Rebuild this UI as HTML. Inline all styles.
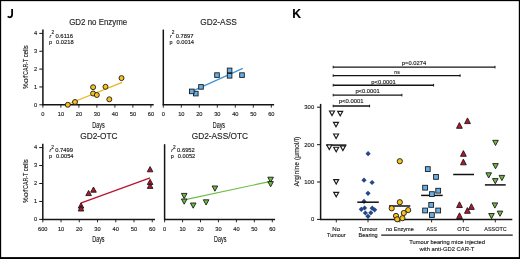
<!DOCTYPE html>
<html><head><meta charset="utf-8"><style>
html,body{margin:0;padding:0;background:#fff;}
svg{display:block;will-change:transform;}
text{font-family:"Liberation Sans", sans-serif;stroke:#1a1a1a;stroke-width:0.14px;}
</style></head><body>
<svg width="520" height="259" viewBox="0 0 520 259">
<rect width="520" height="259" fill="#fff"/>
<line x1="42.9" y1="29.59999999999999" x2="42.9" y2="105.35" stroke="#141414" stroke-width="1.5"/>
<line x1="42.35" y1="104.8" x2="153.70000000000002" y2="104.8" stroke="#141414" stroke-width="1.5"/>
<line x1="42.9" y1="104.8" x2="42.9" y2="107.7" stroke="#141414" stroke-width="0.9"/>
<text x="42.9" y="116.1" font-size="5.7" text-anchor="middle" font-weight="normal" fill="#222">0</text>
<line x1="60.9" y1="104.8" x2="60.9" y2="107.7" stroke="#141414" stroke-width="0.9"/>
<text x="60.9" y="116.1" font-size="5.7" text-anchor="middle" font-weight="normal" fill="#222">10</text>
<line x1="78.9" y1="104.8" x2="78.9" y2="107.7" stroke="#141414" stroke-width="0.9"/>
<text x="78.9" y="116.1" font-size="5.7" text-anchor="middle" font-weight="normal" fill="#222">20</text>
<line x1="96.9" y1="104.8" x2="96.9" y2="107.7" stroke="#141414" stroke-width="0.9"/>
<text x="96.9" y="116.1" font-size="5.7" text-anchor="middle" font-weight="normal" fill="#222">30</text>
<line x1="114.9" y1="104.8" x2="114.9" y2="107.7" stroke="#141414" stroke-width="0.9"/>
<text x="114.9" y="116.1" font-size="5.7" text-anchor="middle" font-weight="normal" fill="#222">40</text>
<line x1="132.9" y1="104.8" x2="132.9" y2="107.7" stroke="#141414" stroke-width="0.9"/>
<text x="132.9" y="116.1" font-size="5.7" text-anchor="middle" font-weight="normal" fill="#222">50</text>
<line x1="150.9" y1="104.8" x2="150.9" y2="107.7" stroke="#141414" stroke-width="0.9"/>
<text x="150.9" y="116.1" font-size="5.7" text-anchor="middle" font-weight="normal" fill="#222">60</text>
<line x1="39.3" y1="104.8" x2="42.9" y2="104.8" stroke="#141414" stroke-width="1.0"/>
<text x="35.699999999999996" y="106.5" font-size="5.7" text-anchor="middle" font-weight="normal" fill="#222">0</text>
<line x1="39.3" y1="86.94999999999999" x2="42.9" y2="86.94999999999999" stroke="#141414" stroke-width="1.0"/>
<text x="35.699999999999996" y="88.64999999999999" font-size="5.7" text-anchor="middle" font-weight="normal" fill="#222">1</text>
<line x1="39.3" y1="69.1" x2="42.9" y2="69.1" stroke="#141414" stroke-width="1.0"/>
<text x="35.699999999999996" y="70.8" font-size="5.7" text-anchor="middle" font-weight="normal" fill="#222">2</text>
<line x1="39.3" y1="51.24999999999999" x2="42.9" y2="51.24999999999999" stroke="#141414" stroke-width="1.0"/>
<text x="35.699999999999996" y="52.949999999999996" font-size="5.7" text-anchor="middle" font-weight="normal" fill="#222">3</text>
<line x1="39.3" y1="33.39999999999999" x2="42.9" y2="33.39999999999999" stroke="#141414" stroke-width="1.0"/>
<text x="35.699999999999996" y="35.099999999999994" font-size="5.7" text-anchor="middle" font-weight="normal" fill="#222">4</text>
<text x="98.5" y="127.8" font-size="8.4" text-anchor="middle" font-weight="normal" fill="#1a1a1a" textLength="12.3" lengthAdjust="spacingAndGlyphs">Days</text>
<text x="98.2" y="24.599999999999994" font-size="8.3" text-anchor="middle" font-weight="normal" fill="#231f20" textLength="58.0" lengthAdjust="spacingAndGlyphs">GD2 no Enzyme</text>
<text x="49.6" y="37.60" font-size="5.4" font-style="italic" fill="#1a1a1a">r</text>
<text x="51.4" y="34.40" font-size="4.8" fill="#1a1a1a">2</text>
<text x="55.4" y="37.5" font-size="5.4" text-anchor="start" font-weight="normal" fill="#1a1a1a" textLength="17.7" lengthAdjust="spacingAndGlyphs">0.6116</text>
<text x="49.1" y="44.2" font-size="5.4" text-anchor="start" font-weight="normal" fill="#1a1a1a">p</text>
<text x="56.1" y="44.2" font-size="5.4" text-anchor="start" font-weight="normal" fill="#1a1a1a" textLength="17.5" lengthAdjust="spacingAndGlyphs">0.0218</text>
<line x1="163.3" y1="29.59999999999999" x2="163.3" y2="105.35" stroke="#141414" stroke-width="1.5"/>
<line x1="162.75" y1="104.8" x2="274.1" y2="104.8" stroke="#141414" stroke-width="1.5"/>
<line x1="163.3" y1="104.8" x2="163.3" y2="107.7" stroke="#141414" stroke-width="0.9"/>
<text x="163.3" y="116.1" font-size="5.7" text-anchor="middle" font-weight="normal" fill="#222">0</text>
<line x1="181.3" y1="104.8" x2="181.3" y2="107.7" stroke="#141414" stroke-width="0.9"/>
<text x="181.3" y="116.1" font-size="5.7" text-anchor="middle" font-weight="normal" fill="#222">10</text>
<line x1="199.3" y1="104.8" x2="199.3" y2="107.7" stroke="#141414" stroke-width="0.9"/>
<text x="199.3" y="116.1" font-size="5.7" text-anchor="middle" font-weight="normal" fill="#222">20</text>
<line x1="217.3" y1="104.8" x2="217.3" y2="107.7" stroke="#141414" stroke-width="0.9"/>
<text x="217.3" y="116.1" font-size="5.7" text-anchor="middle" font-weight="normal" fill="#222">30</text>
<line x1="235.3" y1="104.8" x2="235.3" y2="107.7" stroke="#141414" stroke-width="0.9"/>
<text x="235.3" y="116.1" font-size="5.7" text-anchor="middle" font-weight="normal" fill="#222">40</text>
<line x1="253.3" y1="104.8" x2="253.3" y2="107.7" stroke="#141414" stroke-width="0.9"/>
<text x="253.3" y="116.1" font-size="5.7" text-anchor="middle" font-weight="normal" fill="#222">50</text>
<line x1="271.3" y1="104.8" x2="271.3" y2="107.7" stroke="#141414" stroke-width="0.9"/>
<text x="271.3" y="116.1" font-size="5.7" text-anchor="middle" font-weight="normal" fill="#222">60</text>
<text x="218.9" y="127.8" font-size="8.4" text-anchor="middle" font-weight="normal" fill="#1a1a1a" textLength="12.3" lengthAdjust="spacingAndGlyphs">Days</text>
<text x="218.5" y="24.599999999999994" font-size="8.3" text-anchor="middle" font-weight="normal" fill="#231f20">GD2-ASS</text>
<text x="170.0" y="37.60" font-size="5.4" font-style="italic" fill="#1a1a1a">r</text>
<text x="171.8" y="34.40" font-size="4.8" fill="#1a1a1a">2</text>
<text x="175.8" y="37.5" font-size="5.4" text-anchor="start" font-weight="normal" fill="#1a1a1a" textLength="17.7" lengthAdjust="spacingAndGlyphs">0.7897</text>
<text x="169.5" y="44.2" font-size="5.4" text-anchor="start" font-weight="normal" fill="#1a1a1a">p</text>
<text x="176.5" y="44.2" font-size="5.4" text-anchor="start" font-weight="normal" fill="#1a1a1a" textLength="17.5" lengthAdjust="spacingAndGlyphs">0.0014</text>
<line x1="42.8" y1="143.8" x2="42.8" y2="219.95000000000002" stroke="#141414" stroke-width="1.5"/>
<line x1="42.25" y1="219.4" x2="155.04000000000002" y2="219.4" stroke="#141414" stroke-width="1.5"/>
<line x1="42.8" y1="219.4" x2="42.8" y2="222.3" stroke="#141414" stroke-width="0.9"/>
<text x="42.8" y="230.70000000000002" font-size="5.7" text-anchor="middle" font-weight="normal" fill="#222">600</text>
<line x1="61.04" y1="219.4" x2="61.04" y2="222.3" stroke="#141414" stroke-width="0.9"/>
<text x="61.04" y="230.70000000000002" font-size="5.7" text-anchor="middle" font-weight="normal" fill="#222">10</text>
<line x1="79.28" y1="219.4" x2="79.28" y2="222.3" stroke="#141414" stroke-width="0.9"/>
<text x="79.28" y="230.70000000000002" font-size="5.7" text-anchor="middle" font-weight="normal" fill="#222">20</text>
<line x1="97.52" y1="219.4" x2="97.52" y2="222.3" stroke="#141414" stroke-width="0.9"/>
<text x="97.52" y="230.70000000000002" font-size="5.7" text-anchor="middle" font-weight="normal" fill="#222">30</text>
<line x1="115.76" y1="219.4" x2="115.76" y2="222.3" stroke="#141414" stroke-width="0.9"/>
<text x="115.76" y="230.70000000000002" font-size="5.7" text-anchor="middle" font-weight="normal" fill="#222">40</text>
<line x1="134.0" y1="219.4" x2="134.0" y2="222.3" stroke="#141414" stroke-width="0.9"/>
<text x="134.0" y="230.70000000000002" font-size="5.7" text-anchor="middle" font-weight="normal" fill="#222">50</text>
<line x1="152.24" y1="219.4" x2="152.24" y2="222.3" stroke="#141414" stroke-width="0.9"/>
<text x="152.24" y="230.70000000000002" font-size="5.7" text-anchor="middle" font-weight="normal" fill="#222">60</text>
<line x1="39.199999999999996" y1="219.4" x2="42.8" y2="219.4" stroke="#141414" stroke-width="1.0"/>
<text x="35.599999999999994" y="221.1" font-size="5.7" text-anchor="middle" font-weight="normal" fill="#222">0</text>
<line x1="39.199999999999996" y1="201.45000000000002" x2="42.8" y2="201.45000000000002" stroke="#141414" stroke-width="1.0"/>
<text x="35.599999999999994" y="203.15" font-size="5.7" text-anchor="middle" font-weight="normal" fill="#222">1</text>
<line x1="39.199999999999996" y1="183.5" x2="42.8" y2="183.5" stroke="#141414" stroke-width="1.0"/>
<text x="35.599999999999994" y="185.2" font-size="5.7" text-anchor="middle" font-weight="normal" fill="#222">2</text>
<line x1="39.199999999999996" y1="165.55" x2="42.8" y2="165.55" stroke="#141414" stroke-width="1.0"/>
<text x="35.599999999999994" y="167.25" font-size="5.7" text-anchor="middle" font-weight="normal" fill="#222">3</text>
<line x1="39.199999999999996" y1="147.60000000000002" x2="42.8" y2="147.60000000000002" stroke="#141414" stroke-width="1.0"/>
<text x="35.599999999999994" y="149.3" font-size="5.7" text-anchor="middle" font-weight="normal" fill="#222">4</text>
<text x="98.4" y="242.4" font-size="8.4" text-anchor="middle" font-weight="normal" fill="#1a1a1a" textLength="12.3" lengthAdjust="spacingAndGlyphs">Days</text>
<text x="98.9" y="138.6" font-size="8.3" text-anchor="middle" font-weight="normal" fill="#231f20">GD2-OTC</text>
<text x="49.5" y="151.70" font-size="5.4" font-style="italic" fill="#1a1a1a">r</text>
<text x="51.3" y="148.50" font-size="4.8" fill="#1a1a1a">2</text>
<text x="55.3" y="151.6" font-size="5.4" text-anchor="start" font-weight="normal" fill="#1a1a1a" textLength="17.7" lengthAdjust="spacingAndGlyphs">0.7499</text>
<text x="49.0" y="158.3" font-size="5.4" text-anchor="start" font-weight="normal" fill="#1a1a1a">p</text>
<text x="56.0" y="158.3" font-size="5.4" text-anchor="start" font-weight="normal" fill="#1a1a1a" textLength="17.5" lengthAdjust="spacingAndGlyphs">0.0054</text>
<line x1="164.6" y1="144.2" x2="164.6" y2="219.95000000000002" stroke="#141414" stroke-width="1.5"/>
<line x1="164.04999999999998" y1="219.4" x2="275.09999999999997" y2="219.4" stroke="#141414" stroke-width="1.5"/>
<line x1="164.6" y1="219.4" x2="164.6" y2="222.3" stroke="#141414" stroke-width="0.9"/>
<text x="164.6" y="230.70000000000002" font-size="5.7" text-anchor="middle" font-weight="normal" fill="#222">0</text>
<line x1="182.54999999999998" y1="219.4" x2="182.54999999999998" y2="222.3" stroke="#141414" stroke-width="0.9"/>
<text x="182.55" y="230.70000000000002" font-size="5.7" text-anchor="middle" font-weight="normal" fill="#222">10</text>
<line x1="200.5" y1="219.4" x2="200.5" y2="222.3" stroke="#141414" stroke-width="0.9"/>
<text x="200.5" y="230.70000000000002" font-size="5.7" text-anchor="middle" font-weight="normal" fill="#222">20</text>
<line x1="218.45" y1="219.4" x2="218.45" y2="222.3" stroke="#141414" stroke-width="0.9"/>
<text x="218.45" y="230.70000000000002" font-size="5.7" text-anchor="middle" font-weight="normal" fill="#222">30</text>
<line x1="236.39999999999998" y1="219.4" x2="236.39999999999998" y2="222.3" stroke="#141414" stroke-width="0.9"/>
<text x="236.4" y="230.70000000000002" font-size="5.7" text-anchor="middle" font-weight="normal" fill="#222">40</text>
<line x1="254.35" y1="219.4" x2="254.35" y2="222.3" stroke="#141414" stroke-width="0.9"/>
<text x="254.35" y="230.70000000000002" font-size="5.7" text-anchor="middle" font-weight="normal" fill="#222">50</text>
<line x1="272.29999999999995" y1="219.4" x2="272.29999999999995" y2="222.3" stroke="#141414" stroke-width="0.9"/>
<text x="272.3" y="230.70000000000002" font-size="5.7" text-anchor="middle" font-weight="normal" fill="#222">60</text>
<text x="220.2" y="242.4" font-size="8.4" text-anchor="middle" font-weight="normal" fill="#1a1a1a" textLength="12.3" lengthAdjust="spacingAndGlyphs">Days</text>
<text x="219.9" y="138.5" font-size="8.3" text-anchor="middle" font-weight="normal" fill="#231f20">GD2-ASS/OTC</text>
<text x="171.29999999999998" y="151.80" font-size="5.4" font-style="italic" fill="#1a1a1a">r</text>
<text x="173.1" y="148.60" font-size="4.8" fill="#1a1a1a">2</text>
<text x="177.1" y="151.7" font-size="5.4" text-anchor="start" font-weight="normal" fill="#1a1a1a" textLength="17.7" lengthAdjust="spacingAndGlyphs">0.6952</text>
<text x="170.79999999999998" y="158.4" font-size="5.4" text-anchor="start" font-weight="normal" fill="#1a1a1a">p</text>
<text x="177.79999999999998" y="158.4" font-size="5.4" text-anchor="start" font-weight="normal" fill="#1a1a1a" textLength="17.5" lengthAdjust="spacingAndGlyphs">0.0052</text>
<g transform="translate(27.8 88.6) rotate(-90)" font-size="7.9" fill="#1a1a1a" stroke="#1a1a1a" stroke-width="0.12">
<text x="-0.30" y="0" textLength="5.70" lengthAdjust="spacingAndGlyphs">%</text>
<text x="5.70" y="0" textLength="7.20" lengthAdjust="spacingAndGlyphs">of</text>
<text x="13.70" y="0" textLength="16.20" lengthAdjust="spacingAndGlyphs">CAR-T</text>
<text x="31.30" y="0" textLength="12.10" lengthAdjust="spacingAndGlyphs">cells</text>
</g>
<g transform="translate(27.8 202.6) rotate(-90)" font-size="7.9" fill="#1a1a1a" stroke="#1a1a1a" stroke-width="0.12">
<text x="-0.30" y="0" textLength="5.70" lengthAdjust="spacingAndGlyphs">%</text>
<text x="5.70" y="0" textLength="7.20" lengthAdjust="spacingAndGlyphs">of</text>
<text x="13.70" y="0" textLength="16.20" lengthAdjust="spacingAndGlyphs">CAR-T</text>
<text x="31.30" y="0" textLength="12.10" lengthAdjust="spacingAndGlyphs">cells</text>
</g>
<line x1="67.8" y1="104.3" x2="122.2" y2="82.4" stroke="#eab51c" stroke-width="1.2"/>
<circle cx="67.8" cy="104.8" r="2.5" fill="#f6c31b" stroke="#1a1a1a" stroke-width="0.9"/>
<circle cx="75.0" cy="102.0" r="2.5" fill="#f6c31b" stroke="#1a1a1a" stroke-width="0.9"/>
<circle cx="93.1" cy="87.2" r="2.5" fill="#f6c31b" stroke="#1a1a1a" stroke-width="0.9"/>
<circle cx="93.1" cy="93.5" r="2.5" fill="#f6c31b" stroke="#1a1a1a" stroke-width="0.9"/>
<circle cx="96.8" cy="95.0" r="2.5" fill="#f6c31b" stroke="#1a1a1a" stroke-width="0.9"/>
<circle cx="105.5" cy="86.8" r="2.5" fill="#f6c31b" stroke="#1a1a1a" stroke-width="0.9"/>
<circle cx="109.3" cy="99.3" r="2.5" fill="#f6c31b" stroke="#1a1a1a" stroke-width="0.9"/>
<circle cx="121.5" cy="78.1" r="2.5" fill="#f6c31b" stroke="#1a1a1a" stroke-width="0.9"/>
<line x1="191.8" y1="91.4" x2="242.8" y2="68.4" stroke="#3f91d6" stroke-width="1.2"/>
<rect x="193.5" y="91.3" width="4.6" height="4.6" fill="#64afea" stroke="#1a1a1a" stroke-width="0.9"/>
<rect x="189.5" y="89.10000000000001" width="4.6" height="4.6" fill="#64afea" stroke="#1a1a1a" stroke-width="0.9"/>
<rect x="198.7" y="84.60000000000001" width="4.6" height="4.6" fill="#64afea" stroke="#1a1a1a" stroke-width="0.9"/>
<rect x="214.7" y="72.8" width="4.6" height="4.6" fill="#64afea" stroke="#1a1a1a" stroke-width="0.9"/>
<rect x="227.29999999999998" y="68.10000000000001" width="4.6" height="4.6" fill="#64afea" stroke="#1a1a1a" stroke-width="0.9"/>
<rect x="227.29999999999998" y="73.5" width="4.6" height="4.6" fill="#64afea" stroke="#1a1a1a" stroke-width="0.9"/>
<rect x="239.7" y="72.8" width="4.6" height="4.6" fill="#64afea" stroke="#1a1a1a" stroke-width="0.9"/>
<line x1="80.7" y1="203.2" x2="150.1" y2="177.8" stroke="#b8142f" stroke-width="1.3"/>
<path d="M81 202.9 L83.8 208.1 L78.2 208.1 Z" fill="#b8142f" stroke="#1a1a1a" stroke-width="0.9" stroke-linejoin="miter"/>
<path d="M81 205.8 L83.8 211.0 L78.2 211.0 Z" fill="#b8142f" stroke="#1a1a1a" stroke-width="0.9" stroke-linejoin="miter"/>
<path d="M150.1 179.3 L152.9 184.5 L147.29999999999998 184.5 Z" fill="#b8142f" stroke="#1a1a1a" stroke-width="0.9" stroke-linejoin="miter"/>
<path d="M150.1 183.2 L152.9 188.39999999999998 L147.29999999999998 188.39999999999998 Z" fill="#b8142f" stroke="#1a1a1a" stroke-width="0.9" stroke-linejoin="miter"/>
<path d="M150.1 166.6 L152.9 171.79999999999998 L147.29999999999998 171.79999999999998 Z" fill="#b8142f" stroke="#1a1a1a" stroke-width="0.9" stroke-linejoin="miter"/>
<path d="M93.5 187.0 L96.3 192.2 L90.7 192.2 Z" fill="#b8142f" stroke="#1a1a1a" stroke-width="0.9" stroke-linejoin="miter"/>
<path d="M88.6 190.4 L91.39999999999999 195.6 L85.8 195.6 Z" fill="#b8142f" stroke="#1a1a1a" stroke-width="0.9" stroke-linejoin="miter"/>
<line x1="184.2" y1="199.9" x2="269.5" y2="181.6" stroke="#6cbd45" stroke-width="1.2"/>
<path d="M181.39999999999998 193.4 L187.0 193.4 L184.2 198.6 Z" fill="#6cbd3e" stroke="#1a1a1a" stroke-width="0.9" stroke-linejoin="miter"/>
<path d="M181.39999999999998 199.0 L187.0 199.0 L184.2 204.2 Z" fill="#6cbd3e" stroke="#1a1a1a" stroke-width="0.9" stroke-linejoin="miter"/>
<path d="M190.39999999999998 203.0 L196.0 203.0 L193.2 208.2 Z" fill="#6cbd3e" stroke="#1a1a1a" stroke-width="0.9" stroke-linejoin="miter"/>
<path d="M203.29999999999998 199.8 L208.9 199.8 L206.1 205.0 Z" fill="#6cbd3e" stroke="#1a1a1a" stroke-width="0.9" stroke-linejoin="miter"/>
<path d="M212.1 186.0 L217.70000000000002 186.0 L214.9 191.2 Z" fill="#6cbd3e" stroke="#1a1a1a" stroke-width="0.9" stroke-linejoin="miter"/>
<path d="M267.8 177.2 L273.40000000000003 177.2 L270.6 182.39999999999998 Z" fill="#6cbd3e" stroke="#1a1a1a" stroke-width="0.9" stroke-linejoin="miter"/>
<path d="M267.8 181.6 L273.40000000000003 181.6 L270.6 186.79999999999998 Z" fill="#6cbd3e" stroke="#1a1a1a" stroke-width="0.9" stroke-linejoin="miter"/>
<line x1="320.6" y1="103.9" x2="320.6" y2="220.05" stroke="#141414" stroke-width="1.5"/>
<line x1="320.05" y1="219.5" x2="512.3" y2="219.5" stroke="#141414" stroke-width="1.5"/>
<line x1="317.0" y1="219.4" x2="320.6" y2="219.4" stroke="#141414" stroke-width="1.0"/>
<text x="314.20000000000005" y="221.4" font-size="5.9" text-anchor="end" font-weight="normal" fill="#222">0</text>
<line x1="317.0" y1="182.0" x2="320.6" y2="182.0" stroke="#141414" stroke-width="1.0"/>
<text x="314.20000000000005" y="184.0" font-size="5.9" text-anchor="end" font-weight="normal" fill="#222">100</text>
<line x1="317.0" y1="144.7" x2="320.6" y2="144.7" stroke="#141414" stroke-width="1.0"/>
<text x="314.20000000000005" y="146.7" font-size="5.9" text-anchor="end" font-weight="normal" fill="#222">200</text>
<line x1="317.0" y1="107.2" x2="320.6" y2="107.2" stroke="#141414" stroke-width="1.0"/>
<text x="314.20000000000005" y="109.2" font-size="5.9" text-anchor="end" font-weight="normal" fill="#222">300</text>
<g transform="translate(298.6 186.1) rotate(-90)" font-size="7.9" fill="#1a1a1a" stroke="#1a1a1a" stroke-width="0.12">
<text x="-0.30" y="0" textLength="24.40" lengthAdjust="spacingAndGlyphs">Arginine</text>
<text x="25.80" y="0" textLength="23.60" lengthAdjust="spacingAndGlyphs">(μmol/l)</text>
</g>
<line x1="336.3" y1="219.5" x2="336.3" y2="222.4" stroke="#141414" stroke-width="0.9"/>
<line x1="368.0" y1="219.5" x2="368.0" y2="222.4" stroke="#141414" stroke-width="0.9"/>
<line x1="399.8" y1="219.5" x2="399.8" y2="222.4" stroke="#141414" stroke-width="0.9"/>
<line x1="431.6" y1="219.5" x2="431.6" y2="222.4" stroke="#141414" stroke-width="0.9"/>
<line x1="463.3" y1="219.5" x2="463.3" y2="222.4" stroke="#141414" stroke-width="0.9"/>
<line x1="495.3" y1="219.5" x2="495.3" y2="222.4" stroke="#141414" stroke-width="0.9"/>
<text x="336.2" y="230.7" font-size="6.1" text-anchor="middle" font-weight="normal" fill="#1a1a1a">No</text>
<text x="336.3" y="237.3" font-size="6.1" text-anchor="middle" font-weight="normal" fill="#1a1a1a" textLength="18.5" lengthAdjust="spacingAndGlyphs">Tumour</text>
<text x="368.0" y="230.7" font-size="6.1" text-anchor="middle" font-weight="normal" fill="#1a1a1a" textLength="18.5" lengthAdjust="spacingAndGlyphs">Tumour</text>
<text x="368.1" y="237.3" font-size="6.1" text-anchor="middle" font-weight="normal" fill="#1a1a1a" textLength="19.2" lengthAdjust="spacingAndGlyphs">Bearing</text>
<text x="399.9" y="230.7" font-size="6.1" text-anchor="middle" font-weight="normal" fill="#1a1a1a" textLength="27.8" lengthAdjust="spacingAndGlyphs">no Enzyme</text>
<text x="431.7" y="230.7" font-size="6.1" text-anchor="middle" font-weight="normal" fill="#1a1a1a" textLength="10.5" lengthAdjust="spacingAndGlyphs">ASS</text>
<text x="463.3" y="230.7" font-size="6.1" text-anchor="middle" font-weight="normal" fill="#1a1a1a" textLength="12.0" lengthAdjust="spacingAndGlyphs">OTC</text>
<text x="495.5" y="230.7" font-size="6.1" text-anchor="middle" font-weight="normal" fill="#1a1a1a" textLength="22.4" lengthAdjust="spacingAndGlyphs">ASSOTC</text>
<line x1="381.2" y1="235.2" x2="512.7" y2="235.2" stroke="#1a1a1a" stroke-width="1.2"/>
<text x="447.1" y="243.6" font-size="6.1" text-anchor="middle" font-weight="normal" fill="#1a1a1a" textLength="75.8" lengthAdjust="spacingAndGlyphs">Tumour bearing mice injected</text>
<text x="447.0" y="251.2" font-size="6.1" text-anchor="middle" font-weight="normal" fill="#1a1a1a" textLength="54.8" lengthAdjust="spacingAndGlyphs">with anti-GD2 CAR-T</text>
<line x1="333.2" y1="67.1" x2="495.0" y2="67.1" stroke="#141414" stroke-width="1.35"/>
<line x1="333.2" y1="65.8" x2="333.2" y2="68.39999999999999" stroke="#1a1a1a" stroke-width="1.0"/>
<line x1="495.0" y1="65.8" x2="495.0" y2="68.39999999999999" stroke="#1a1a1a" stroke-width="1.0"/>
<line x1="333.2" y1="75.6" x2="460.1" y2="75.6" stroke="#141414" stroke-width="1.35"/>
<line x1="333.2" y1="74.3" x2="333.2" y2="76.89999999999999" stroke="#1a1a1a" stroke-width="1.0"/>
<line x1="460.1" y1="74.3" x2="460.1" y2="76.89999999999999" stroke="#1a1a1a" stroke-width="1.0"/>
<line x1="333.2" y1="85.2" x2="433.6" y2="85.2" stroke="#141414" stroke-width="1.35"/>
<line x1="333.2" y1="83.9" x2="333.2" y2="86.5" stroke="#1a1a1a" stroke-width="1.0"/>
<line x1="433.6" y1="83.9" x2="433.6" y2="86.5" stroke="#1a1a1a" stroke-width="1.0"/>
<line x1="333.2" y1="95.1" x2="401.9" y2="95.1" stroke="#141414" stroke-width="1.35"/>
<line x1="333.2" y1="93.8" x2="333.2" y2="96.39999999999999" stroke="#1a1a1a" stroke-width="1.0"/>
<line x1="401.9" y1="93.8" x2="401.9" y2="96.39999999999999" stroke="#1a1a1a" stroke-width="1.0"/>
<line x1="333.2" y1="106.0" x2="369.6" y2="106.0" stroke="#141414" stroke-width="1.35"/>
<line x1="333.2" y1="104.7" x2="333.2" y2="107.3" stroke="#1a1a1a" stroke-width="1.0"/>
<line x1="369.6" y1="104.7" x2="369.6" y2="107.3" stroke="#1a1a1a" stroke-width="1.0"/>
<text x="414.0" y="65.0" font-size="6.1" text-anchor="middle" font-weight="normal" fill="#1a1a1a" textLength="24.3" lengthAdjust="spacingAndGlyphs">p=0.0274</text>
<text x="397.0" y="74.2" font-size="6.1" text-anchor="middle" font-weight="normal" fill="#1a1a1a" textLength="5.3" lengthAdjust="spacingAndGlyphs">ns</text>
<text x="383.5" y="83.7" font-size="6.1" text-anchor="middle" font-weight="normal" fill="#1a1a1a" textLength="24.4" lengthAdjust="spacingAndGlyphs">p&lt;0.0001</text>
<text x="367.6" y="93.2" font-size="6.1" text-anchor="middle" font-weight="normal" fill="#1a1a1a" textLength="24.4" lengthAdjust="spacingAndGlyphs">p&lt;0.0001</text>
<text x="351.2" y="103.4" font-size="6.1" text-anchor="middle" font-weight="normal" fill="#1a1a1a" textLength="24.8" lengthAdjust="spacingAndGlyphs">p&lt;0.0001</text>
<line x1="326.3" y1="145.1" x2="346.4" y2="145.1" stroke="#111" stroke-width="1.5"/>
<path d="M329.5 111.0 L334.5 111.0 L332.0 115.5 Z" fill="#fff" stroke="#1a1a1a" stroke-width="1.15" stroke-linejoin="miter"/>
<path d="M337.7 111.3 L342.7 111.3 L340.2 115.8 Z" fill="#fff" stroke="#1a1a1a" stroke-width="1.15" stroke-linejoin="miter"/>
<path d="M333.5 122.4 L338.5 122.4 L336.0 126.9 Z" fill="#fff" stroke="#1a1a1a" stroke-width="1.15" stroke-linejoin="miter"/>
<path d="M333.6 134.0 L338.6 134.0 L336.1 138.5 Z" fill="#fff" stroke="#1a1a1a" stroke-width="1.15" stroke-linejoin="miter"/>
<path d="M326.8 145.0 L331.8 145.0 L329.3 149.5 Z" fill="#fff" stroke="#1a1a1a" stroke-width="1.15" stroke-linejoin="miter"/>
<path d="M333.7 147.2 L338.7 147.2 L336.2 151.7 Z" fill="#fff" stroke="#1a1a1a" stroke-width="1.15" stroke-linejoin="miter"/>
<path d="M340.4 146.0 L345.4 146.0 L342.9 150.5 Z" fill="#fff" stroke="#1a1a1a" stroke-width="1.15" stroke-linejoin="miter"/>
<path d="M333.7 179.6 L338.7 179.6 L336.2 184.1 Z" fill="#fff" stroke="#1a1a1a" stroke-width="1.15" stroke-linejoin="miter"/>
<path d="M333.7 192.3 L338.7 192.3 L336.2 196.8 Z" fill="#fff" stroke="#1a1a1a" stroke-width="1.15" stroke-linejoin="miter"/>
<path d="M368.1 151.1 L370.70000000000005 153.7 L368.1 156.29999999999998 L365.5 153.7 Z" fill="#24488a"/>
<path d="M364 177.6 L366.6 180.2 L364 182.79999999999998 L361.4 180.2 Z" fill="#24488a"/>
<path d="M372.1 179.9 L374.70000000000005 182.5 L372.1 185.1 L369.5 182.5 Z" fill="#24488a"/>
<path d="M368 190.70000000000002 L370.6 193.3 L368 195.9 L365.4 193.3 Z" fill="#24488a"/>
<path d="M364 198.8 L366.6 201.4 L364 204.0 L361.4 201.4 Z" fill="#24488a"/>
<path d="M361.3 206.70000000000002 L363.90000000000003 209.3 L361.3 211.9 L358.7 209.3 Z" fill="#24488a"/>
<path d="M364.6 205.4 L367.20000000000005 208.0 L364.6 210.6 L362.0 208.0 Z" fill="#24488a"/>
<path d="M365.4 210.4 L368.0 213.0 L365.4 215.6 L362.79999999999995 213.0 Z" fill="#24488a"/>
<path d="M368.0 213.70000000000002 L370.6 216.3 L368.0 218.9 L365.4 216.3 Z" fill="#24488a"/>
<path d="M370.8 210.20000000000002 L373.40000000000003 212.8 L370.8 215.4 L368.2 212.8 Z" fill="#24488a"/>
<path d="M372.2 205.6 L374.8 208.2 L372.2 210.79999999999998 L369.59999999999997 208.2 Z" fill="#24488a"/>
<path d="M374.6 207.20000000000002 L377.20000000000005 209.8 L374.6 212.4 L372.0 209.8 Z" fill="#24488a"/>
<line x1="357.3" y1="202.2" x2="378.8" y2="202.2" stroke="#111" stroke-width="1.5"/>
<line x1="389.0" y1="206.0" x2="410.3" y2="206.0" stroke="#111" stroke-width="1.5"/>
<circle cx="399.8" cy="161.2" r="2.6" fill="#f6c31b" stroke="#1a1a1a" stroke-width="0.9"/>
<circle cx="399.8" cy="202.2" r="2.6" fill="#f6c31b" stroke="#1a1a1a" stroke-width="0.9"/>
<circle cx="391.7" cy="208.3" r="2.6" fill="#f6c31b" stroke="#1a1a1a" stroke-width="0.9"/>
<circle cx="408.2" cy="210.1" r="2.6" fill="#f6c31b" stroke="#1a1a1a" stroke-width="0.9"/>
<circle cx="403.8" cy="213.0" r="2.6" fill="#f6c31b" stroke="#1a1a1a" stroke-width="0.9"/>
<circle cx="396.0" cy="215.9" r="2.6" fill="#f6c31b" stroke="#1a1a1a" stroke-width="0.9"/>
<circle cx="402.4" cy="218.2" r="2.6" fill="#f6c31b" stroke="#1a1a1a" stroke-width="0.9"/>
<circle cx="397.2" cy="219.3" r="2.6" fill="#f6c31b" stroke="#1a1a1a" stroke-width="0.9"/>
<line x1="421.1" y1="195.4" x2="442.7" y2="195.4" stroke="#111" stroke-width="1.5"/>
<rect x="425.40000000000003" y="166.7" width="4.8" height="4.8" fill="#64afea" stroke="#1a1a1a" stroke-width="0.9"/>
<rect x="433.6" y="174.5" width="4.8" height="4.8" fill="#64afea" stroke="#1a1a1a" stroke-width="0.9"/>
<rect x="422.70000000000005" y="185.29999999999998" width="4.8" height="4.8" fill="#64afea" stroke="#1a1a1a" stroke-width="0.9"/>
<rect x="435.8" y="188.29999999999998" width="4.8" height="4.8" fill="#64afea" stroke="#1a1a1a" stroke-width="0.9"/>
<rect x="429.5" y="191.7" width="4.8" height="4.8" fill="#64afea" stroke="#1a1a1a" stroke-width="0.9"/>
<rect x="428.8" y="202.5" width="4.8" height="4.8" fill="#64afea" stroke="#1a1a1a" stroke-width="0.9"/>
<rect x="422.70000000000005" y="208.1" width="4.8" height="4.8" fill="#64afea" stroke="#1a1a1a" stroke-width="0.9"/>
<rect x="435.8" y="208.1" width="4.8" height="4.8" fill="#64afea" stroke="#1a1a1a" stroke-width="0.9"/>
<rect x="429.5" y="212.6" width="4.8" height="4.8" fill="#64afea" stroke="#1a1a1a" stroke-width="0.9"/>
<line x1="453.2" y1="174.5" x2="474.0" y2="174.5" stroke="#111" stroke-width="1.5"/>
<path d="M467.5 117.9 L470.4 123.60000000000001 L464.6 123.60000000000001 Z" fill="#b8142f" stroke="#1a1a1a" stroke-width="0.9" stroke-linejoin="miter"/>
<path d="M459.4 122.6 L462.29999999999995 128.29999999999998 L456.5 128.29999999999998 Z" fill="#b8142f" stroke="#1a1a1a" stroke-width="0.9" stroke-linejoin="miter"/>
<path d="M463.4 150.6 L466.29999999999995 156.29999999999998 L460.5 156.29999999999998 Z" fill="#b8142f" stroke="#1a1a1a" stroke-width="0.9" stroke-linejoin="miter"/>
<path d="M463.4 159.1 L466.29999999999995 164.79999999999998 L460.5 164.79999999999998 Z" fill="#b8142f" stroke="#1a1a1a" stroke-width="0.9" stroke-linejoin="miter"/>
<path d="M459.5 201.8 L462.4 207.5 L456.6 207.5 Z" fill="#b8142f" stroke="#1a1a1a" stroke-width="0.9" stroke-linejoin="miter"/>
<path d="M471.4 203.7 L474.29999999999995 209.39999999999998 L468.5 209.39999999999998 Z" fill="#b8142f" stroke="#1a1a1a" stroke-width="0.9" stroke-linejoin="miter"/>
<path d="M467.4 207.6 L470.29999999999995 213.29999999999998 L464.5 213.29999999999998 Z" fill="#b8142f" stroke="#1a1a1a" stroke-width="0.9" stroke-linejoin="miter"/>
<path d="M459.5 212.8 L462.4 218.5 L456.6 218.5 Z" fill="#b8142f" stroke="#1a1a1a" stroke-width="0.9" stroke-linejoin="miter"/>
<line x1="484.9" y1="184.9" x2="505.7" y2="184.9" stroke="#111" stroke-width="1.5"/>
<path d="M492.7 140.3 L498.3 140.3 L495.5 145.5 Z" fill="#6cbd3e" stroke="#1a1a1a" stroke-width="0.9" stroke-linejoin="miter"/>
<path d="M492.7 163.6 L498.3 163.6 L495.5 168.79999999999998 Z" fill="#6cbd3e" stroke="#1a1a1a" stroke-width="0.9" stroke-linejoin="miter"/>
<path d="M485.9 172.8 L491.5 172.8 L488.7 178.0 Z" fill="#6cbd3e" stroke="#1a1a1a" stroke-width="0.9" stroke-linejoin="miter"/>
<path d="M499.09999999999997 175.4 L504.7 175.4 L501.9 180.6 Z" fill="#6cbd3e" stroke="#1a1a1a" stroke-width="0.9" stroke-linejoin="miter"/>
<path d="M492.5 178.6 L498.1 178.6 L495.3 183.79999999999998 Z" fill="#6cbd3e" stroke="#1a1a1a" stroke-width="0.9" stroke-linejoin="miter"/>
<path d="M492.09999999999997 202.9 L497.7 202.9 L494.9 208.1 Z" fill="#6cbd3e" stroke="#1a1a1a" stroke-width="0.9" stroke-linejoin="miter"/>
<path d="M497.2 211.1 L502.8 211.1 L500.0 216.29999999999998 Z" fill="#6cbd3e" stroke="#1a1a1a" stroke-width="0.9" stroke-linejoin="miter"/>
<path d="M488.7 213.5 L494.3 213.5 L491.5 218.7 Z" fill="#6cbd3e" stroke="#1a1a1a" stroke-width="0.9" stroke-linejoin="miter"/>
<path d="M12.1 9.1 V14.6 Q12.1 17.3 9.8 17.3 Q8.6 17.3 7.7 16.4" fill="none" stroke="#000" stroke-width="1.75"/>
<text x="292.2" y="17.8" font-size="12.2" text-anchor="start" font-weight="bold" fill="#000">K</text>
<rect x="0" y="0" width="520" height="1.15" fill="#000"/>
<rect x="0" y="0" width="1.15" height="259" fill="#000"/>
<rect x="518.8" y="0" width="1.2" height="259" fill="#000"/>
<rect x="0" y="257.1" width="520" height="1.9" fill="#000"/>
</svg>
</body></html>
